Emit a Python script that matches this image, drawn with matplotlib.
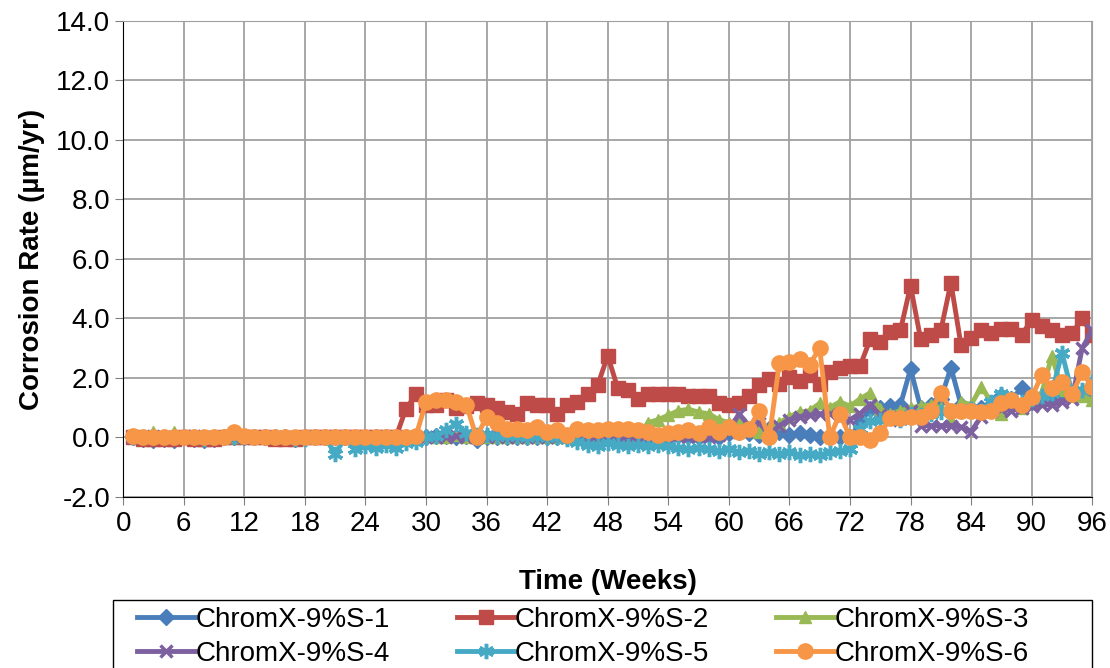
import matplotlib
matplotlib.use("Agg")
import matplotlib.pyplot as plt
from matplotlib.patches import Rectangle
import numpy as np

plt.rcParams['font.family'] = ['Liberation Sans', 'DejaVu Sans']

weeks = list(range(1, 97))

s1 = [0.0, -0.05, -0.1, -0.05, -0.1, 0.0, -0.05, -0.1, -0.05, 0.0,
      0.0, 0.0, 0.0, 0.0, 0.0, 0.0, -0.05, 0.0, 0.0, 0.0,
      0.0, 0.0, -0.05, 0.0, 0.0, 0.0, 0.0, 0.0, 0.0, 0.0,
      0.05, 0.05, 0.0, 0.05, -0.1, 0.0, 0.0, 0.0, 0.0, 0.0,
      0.0, 0.0, 0.0, 0.0, 0.0, 0.0, 0.0, 0.0, 0.0, 0.0,
      0.0, 0.0, 0.05, 0.0, 0.1, 0.05, 0.0, 0.1, 0.0, 0.15,
      0.2, 0.15, 0.1, 0.3, 0.2, 0.1, 0.15, 0.1, 0.0, 0.05,
      0.0, 0.0, 0.5, 0.95, 1.0, 1.05, 1.1, 2.3, 1.0, 1.1,
      1.3, 2.35, 1.1, 1.0, 1.0, 1.1, 1.4, 1.3, 1.65, 1.2,
      1.35, 1.4, 1.45, 1.5, 1.5, 1.4]

s2 = [0.0, -0.05, -0.05, -0.05, -0.05, 0.0, -0.05, -0.05, -0.05, 0.0,
      0.0, 0.0, 0.0, 0.0, -0.05, -0.05, -0.05, 0.0, 0.0, 0.0,
      0.0, 0.0, 0.0, 0.0, 0.0, 0.0, 0.0, 0.95, 1.45, 1.1,
      1.1, 1.25, 1.0, 1.05, 1.15, 1.1, 1.0, 0.85, 0.8, 1.15,
      1.1, 1.1, 0.8, 1.1, 1.2, 1.45, 1.75, 2.75, 1.65, 1.6,
      1.3, 1.45, 1.45, 1.45, 1.45, 1.4, 1.4, 1.4, 1.15, 1.1,
      1.15, 1.4, 1.75, 1.95, 1.8, 2.05, 1.9, 2.1, 1.8, 2.2,
      2.35, 2.4, 2.4, 3.3, 3.2, 3.55, 3.6, 5.1, 3.3, 3.45,
      3.6, 5.2, 3.1, 3.35, 3.6, 3.5, 3.65, 3.65, 3.45, 3.95,
      3.75, 3.6, 3.45, 3.5, 4.0, 3.45]

s3 = [0.05, 0.0, 0.2, 0.0, 0.2, 0.0, 0.1, 0.0, 0.05, 0.0,
      0.0, 0.0, 0.05, 0.0, 0.0, 0.0, 0.0, 0.05, 0.0, 0.0,
      0.0, 0.0, 0.0, 0.0, 0.0, 0.0, 0.0, 0.0, 0.0, 0.05,
      0.0, 0.0, 0.1, 0.0, 0.0, 0.0, 0.0, 0.0, 0.0, 0.0,
      0.0, 0.0, 0.0, 0.0, 0.0, 0.0, 0.0, 0.0, 0.0, 0.0,
      0.05, 0.5, 0.6, 0.75, 0.9, 0.95, 0.85, 0.8, 0.6, 0.5,
      0.5, 0.3, 0.2, 0.3, 0.5, 0.7, 0.85, 0.9, 1.15, 1.0,
      1.2, 1.05, 1.3, 1.5, 0.95, 0.8, 0.9, 1.0, 1.05, 1.1,
      1.0, 0.6, 1.2, 1.1, 1.7, 1.2, 0.8, 1.1, 1.0, 1.2,
      1.5, 2.75, 1.6, 1.5, 1.4, 1.25]

s4 = [0.0, 0.0, 0.05, 0.0, 0.0, 0.0, 0.05, 0.0, 0.0, 0.0,
      0.0, 0.0, 0.0, 0.0, 0.0, 0.0, 0.0, 0.0, 0.0, 0.0,
      0.0, 0.0, 0.0, 0.0, 0.0, 0.0, 0.0, 0.0, 0.0, 0.0,
      0.0, 0.0, 0.05, 0.0, 0.0, 0.0, 0.05, 0.0, 0.0, 0.0,
      0.0, 0.0, 0.0, 0.0, 0.0, 0.0, 0.0, 0.0, 0.0, 0.0,
      0.0, 0.0, 0.05, 0.0, 0.05, 0.0, 0.1, 0.0, 0.1, 0.2,
      0.8, 0.4, 0.5, 0.1, 0.4, 0.6, 0.7, 0.75, 0.8, 0.8,
      0.65, 0.6, 0.8, 1.1, 0.75, 0.6, 0.7, 0.9, 0.4, 0.4,
      0.4, 0.4, 0.35, 0.2, 0.7, 0.9, 0.95, 0.9, 1.0, 1.05,
      1.1, 1.1, 1.2, 1.3, 3.0, 3.6]

s5 = [0.0, 0.0, 0.0, 0.0, 0.0, 0.0, 0.0, -0.05, 0.0, 0.0,
      0.0, 0.0, 0.0, 0.0, 0.0, 0.0, -0.05, -0.05, 0.0, 0.0,
      -0.55, 0.0, -0.4, -0.3, -0.35, -0.25, -0.35, -0.2, -0.15, 0.0,
      0.05, 0.25, 0.45, 0.15, 0.1, 0.1, 0.05, 0.05, 0.05, 0.0,
      0.05, 0.0, 0.0, -0.05, -0.15, -0.25, -0.3, -0.2, -0.25, -0.3,
      -0.25, -0.3, -0.25, -0.3, -0.35, -0.4, -0.35, -0.4, -0.45, -0.4,
      -0.5, -0.45, -0.55, -0.5, -0.55, -0.5, -0.6, -0.55, -0.6, -0.5,
      -0.45, -0.4, 0.3, 0.55, 0.6, 0.7, 0.6, 0.8, 0.75, 0.8,
      0.85, 0.9, 0.9, 0.95, 0.9, 1.2, 1.45, 1.3, 1.2, 1.3,
      1.4, 1.5, 2.85, 1.5, 1.6, 1.85]

s6 = [0.05, 0.0, 0.0, 0.0, 0.0, 0.0, 0.0, 0.0, 0.0, 0.0,
      0.2, 0.05, 0.0, 0.0, 0.0, 0.0, 0.0, 0.0, 0.0, 0.0,
      0.0, 0.0, 0.0, 0.0, 0.0, 0.0, 0.0, 0.0, 0.05, 1.2,
      1.25, 1.25, 1.2, 1.1, 0.0, 0.7, 0.5, 0.3, 0.3, 0.25,
      0.35, 0.2, 0.25, 0.1, 0.3, 0.25, 0.25, 0.3, 0.3, 0.3,
      0.25, 0.2, 0.1, 0.15, 0.2, 0.25, 0.15, 0.35, 0.2, 0.35,
      0.2, 0.3, 0.9, 0.0, 2.5, 2.55, 2.65, 2.45, 3.0, 0.0,
      0.8, 0.0, 0.0, -0.1, 0.15, 0.65, 0.65, 0.7, 0.7, 0.9,
      1.5, 0.9, 0.9, 0.9, 0.85, 0.9, 1.15, 1.25, 1.1, 1.35,
      2.1, 1.65, 1.85, 1.45, 2.2, 1.7]

labels = ['ChromX-9%S-1', 'ChromX-9%S-2', 'ChromX-9%S-3',
          'ChromX-9%S-4', 'ChromX-9%S-5', 'ChromX-9%S-6']
colors = ['#4A7EBB', '#BE4B48', '#98B954', '#7D60A0', '#46AAC5', '#F79646']
markers = ['D', 's', '^', 'x', (6, 2, 0), 'o']
msizes = [8, 10, 9, 9, 11, 11]

fig = plt.figure(figsize=(11.1, 6.68), dpi=100)
ax = fig.add_axes([0.111, 0.256, 0.873, 0.7126])

series = [s1, s2, s3, s4, s5, s6]
handles = []
for s, lab, c, m, ms in zip(series, labels, colors, markers, msizes):
    h, = ax.plot(weeks, s, color=c, lw=3.5, marker=m, markersize=ms,
                 markeredgewidth=2.5 if m in ('x', (6, 2, 0)) else 1,
                 markeredgecolor=c, label=lab)
    handles.append(h)

ax.set_xlim(0, 96)
ax.set_ylim(-2, 14)
ax.set_xticks(np.arange(0, 97, 6))
ax.set_yticks(np.arange(-2, 15, 2))
ax.set_yticklabels(['%.1f' % v for v in np.arange(-2, 15, 2)])
ax.grid(True, color='#A0A0A0', lw=1.3)
ax.set_axisbelow(True)
ax.tick_params(labelsize=20, direction='out', length=6, color='#808080')
ax.tick_params(axis='x', pad=4)
for side in ['top', 'right']:
    ax.spines[side].set_color('#A0A0A0')
for side in ['left', 'bottom']:
    ax.spines[side].set_color('black')

ax.set_xlabel('Time (Weeks)', fontsize=20, fontweight='bold', labelpad=23)
ax.set_ylabel('Corrosion Rate (µm/yr)', fontsize=20, fontweight='bold', labelpad=8)

# legend fills row-wise in the reference; box runs off the bottom edge
order = [0, 3, 1, 4, 2, 5]
leg = fig.legend([handles[i] for i in order], [labels[i] for i in order],
                 loc='upper left', bbox_to_anchor=(0.1198, 0.098),
                 ncol=3, fontsize=20, frameon=False,
                 handlelength=2.1, handletextpad=0.0, borderpad=0.15,
                 labelspacing=0.3, columnspacing=2.4, borderaxespad=0.0)
fig.patches.append(Rectangle((113 / 1110, -0.05), (1092 - 113) / 1110, 0.05 + 0.1018,
                             transform=fig.transFigure, fill=False,
                             edgecolor='black', lw=1.0))

fig.savefig('out.png', dpi=100)
